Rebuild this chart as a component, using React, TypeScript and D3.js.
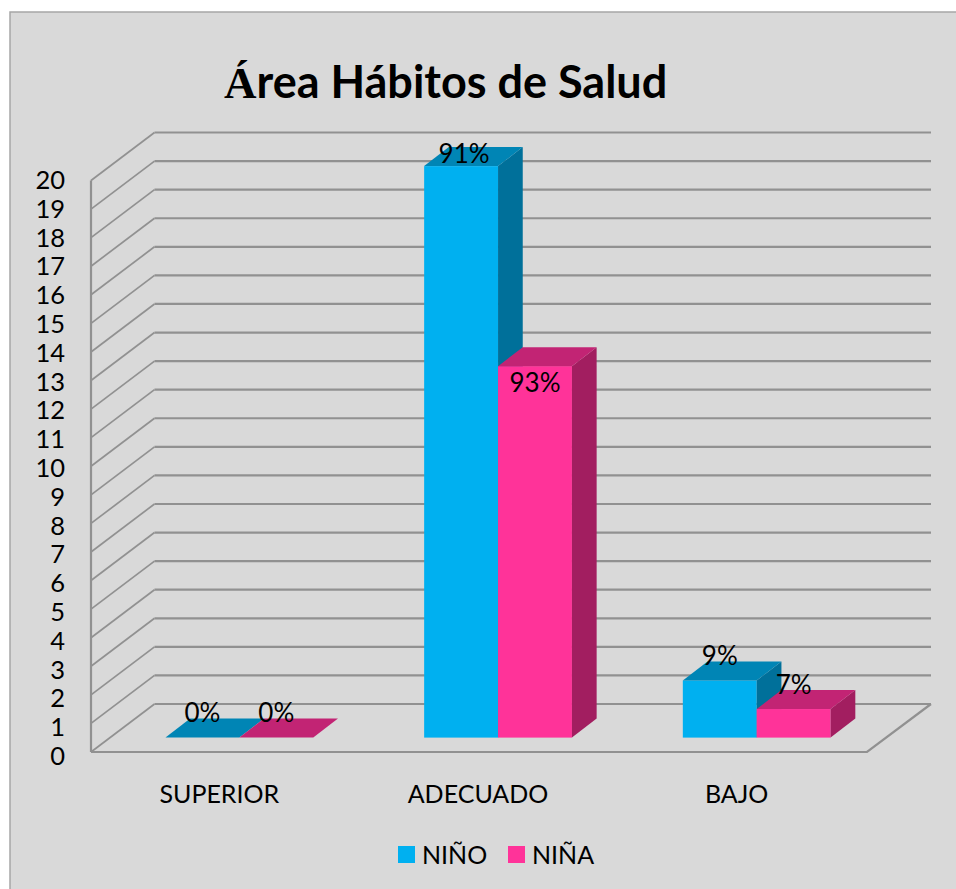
import React from "react";
import * as d3 from "d3";

const categories = ["SUPERIOR", "ADECUADO", "BAJO"];
const seriesNames = ["NIÑO", "NIÑA"];
const ninoValues = [0, 20, 2];
const ninaValues = [0, 13, 1];
const ninoLabels = ["0%", "91%", "9%"];
const ninaLabels = ["0%", "93%", "7%"];
const ticks = d3.range(0, 21);

const W = 956, H = 889;
const x0 = 91, x1 = 867, yFront0 = 752, yFront20 = 180.5;
const depthX = 63.5, depthY = -48;
const barFrac = 0.3;
const sans = "Lato, 'Open Sans', sans-serif";

const y = d3.scaleLinear().domain([0, 20]).range([yFront0, yFront20]);
const xCat = d3.scaleBand<string>().domain(categories).range([x0, x1]).paddingInner(0.4286).paddingOuter(0.2143);
const xSer = d3.scaleBand<string>().domain(seriesNames).range([0, xCat.bandwidth()]);
const labelY = d3.scaleLinear().domain([0, 20]).range([755.5, 179.5]);

const colors = [
  { front: "#00b0f0", top: "#0085b5", side: "#00709a" },
  { front: "#ff3399", top: "#c22474", side: "#a21e60" },
];

const poly = (pts: number[][]) => pts.map((p) => p.join(",")).join(" ");

function Bar({ cat, si, value }: { cat: string; si: number; value: number }) {
  const c = colors[si];
  const ox = depthX * barFrac, oy = depthY * barFrac;
  const dx = 24.7, dy = -19;
  const left = xCat(cat)! + xSer(seriesNames[si])! + ox;
  const right = left + xSer.bandwidth();
  const base = y(0) + oy;
  const top = y(value) + oy;
  return (
    <g>
      {value > 0 && <rect x={left} y={top} width={right - left} height={base - top} fill={c.front} />}
      {value > 0 && (
        <polygon points={poly([[right, top], [right + dx, top + dy], [right + dx, base + dy], [right, base]])} fill={c.side} />
      )}
      <polygon points={poly([[left, top], [left + dx, top + dy], [right + dx, top + dy], [right, top]])} fill={c.top} />
    </g>
  );
}

function BarLabel({ cat, si, value, label }: { cat: string; si: number; value: number; label: string }) {
  const ox = depthX * barFrac, oy = depthY * barFrac;
  const cx = xCat(cat)! + xSer(seriesNames[si])! + ox + xSer.bandwidth() / 2;
  const top = y(value) + oy;
  const shiftY = value === 20 ? -3 : value === 13 ? 26 : -15.5;
  const shiftX = value === 20 ? 3 : 0;
  return (
    <text x={cx + shiftX} y={top + shiftY} textAnchor="middle" fontFamily={sans} fontSize={26} fill="#000">
      {label}
    </text>
  );
}

export default function App() {
  const grid = "#919191";
  return (
    <svg width={W} height={H} viewBox={`0 0 ${W} ${H}`} style={{ position: "absolute", left: 0, top: 0, background: "#fff" }}>
      <rect x={10} y={12} width={W} height={H} fill="#d9d9d9" stroke="#a6a6a6" strokeWidth={1.5} />
      <text x={224} y={98} fontFamily={sans} fontSize={45} fontWeight={700} fill="#000">
        <tspan fontFamily="'Liberation Serif', serif">Á</tspan>rea Hábitos de Salud
      </text>
      {ticks.map((t) => (
        <g key={t}>
          <line x1={x0} y1={y(t)} x2={x0 + depthX} y2={y(t) + depthY} stroke={grid} strokeWidth={1.7} />
          <line x1={x0 + depthX} y1={y(t) + depthY} x2={931} y2={y(t) + depthY} stroke={grid} strokeWidth={2.2} />
          <text x={65} y={labelY(t) + 9.5} textAnchor="end" fontFamily={sans} fontSize={25.5} fill="#000">{t}</text>
        </g>
      ))}
      <line x1={x0} y1={y(20)} x2={x0} y2={y(0)} stroke={grid} strokeWidth={2.2} />
      <polyline points={poly([[x0, y(0)], [x1, y(0)], [931, y(0) + depthY]])} fill="none" stroke={grid} strokeWidth={2.2} />
      {categories.map((c, i) => (
        <g key={c}>
          <Bar cat={c} si={0} value={ninoValues[i]} />
          <Bar cat={c} si={1} value={ninaValues[i]} />
        </g>
      ))}
      {categories.map((c, i) => (
        <g key={c}>
          <BarLabel cat={c} si={0} value={ninoValues[i]} label={ninoLabels[i]} />
          <BarLabel cat={c} si={1} value={ninaValues[i]} label={ninaLabels[i]} />
          <text x={xCat(c)! + xCat.bandwidth() / 2 - 1} y={802.5} textAnchor="middle" fontFamily={sans} fontSize={25} fill="#000">{c}</text>
        </g>
      ))}
      {seriesNames.map((s, i) => (
        <g key={s}>
          <rect x={398 + i * 110} y={846} width={17} height={17} fill={colors[i].front} />
          <text x={422 + i * 110} y={864} fontFamily={sans} fontSize={25} fill="#000">{s}</text>
        </g>
      ))}
    </svg>
  );
}
